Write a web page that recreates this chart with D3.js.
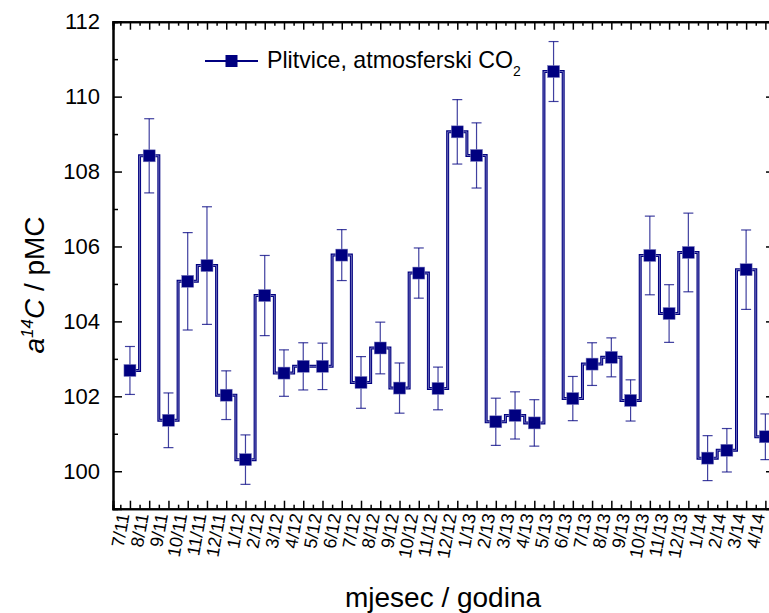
<!DOCTYPE html>
<html>
<head>
<meta charset="utf-8">
<script src="https://cdn.jsdelivr.net/npm/d3@7"></script>
<style>
    body { margin: 0; background: #fff; }
    svg { display: block; font-family: "Liberation Sans", Arial, sans-serif; }
</style>
</head>
<body>
<div id="chart"></div>
<script>
var labels = ["7/11", "8/11", "9/11", "10/11", "11/11", "12/11",
    "1/12", "2/12", "3/12", "4/12", "5/12", "6/12", "7/12", "8/12", "9/12", "10/12", "11/12", "12/12",
    "1/13", "2/13", "3/13", "4/13", "5/13", "6/13", "7/13", "8/13", "9/13", "10/13", "11/13", "12/13",
    "1/14", "2/14", "3/14", "4/14"];

var values = [102.69, 108.42, 101.36, 105.07, 105.49, 102.03,
    100.31, 104.69, 102.62, 102.80, 102.80, 105.77, 102.37, 103.29, 102.22, 105.29, 102.21, 109.06,
    108.43, 101.32, 101.49, 101.29, 110.67, 101.94, 102.86, 103.04, 101.89, 105.76, 104.21, 105.84,
    100.35, 100.56, 105.38, 100.92];

var errors = [0.64, 0.99, 0.73, 1.30, 1.57, 0.65,
    0.66, 1.07, 0.62, 0.63, 0.62, 0.68, 0.69, 0.69, 0.67, 0.67, 0.57, 0.86,
    0.87, 0.63, 0.63, 0.62, 0.80, 0.59, 0.57, 0.52, 0.55, 1.05, 0.77, 1.05,
    0.60, 0.58, 1.06, 0.61];

var yMajor = [100, 102, 104, 106, 108, 110, 112];
var yMinor = [101, 103, 105, 107, 109, 111];

var seriesName = "Plitvice, atmosferski CO";

var width = 769, height = 613;
var navy = "#000080";

var data = values.map(function(v, i) {
    return { i: i, label: labels[i], value: v, err: errors[i] };
});

var x = d3.scaleLinear().domain([-0.88, 33.5]).range([113, 775]);
var y = d3.scaleLinear().domain([99, 112]).range([508.7, 21.7]);

var svg = d3.select("#chart").append("svg")
    .attr("width", width)
    .attr("height", height);

svg.append("rect").attr("width", width).attr("height", height).attr("fill", "#fff");

var idx = d3.range(labels.length);
var halfIdx = d3.range(-0.5, labels.length, 1);

// axes, all ticks pointing inward
var bottom = svg.append("g")
    .attr("transform", "translate(0," + y.range()[0] + ")")
    .call(d3.axisBottom(x).tickValues(idx).tickSize(-8).tickPadding(0)
        .tickFormat(function(d) { return labels[d]; }));
svg.append("g")
    .attr("transform", "translate(0," + y.range()[0] + ")")
    .call(d3.axisBottom(x).tickValues(halfIdx).tickSize(-4).tickFormat(""));

svg.append("g")
    .attr("transform", "translate(0," + y.range()[1] + ")")
    .call(d3.axisTop(x).tickValues(idx).tickSize(-8).tickFormat(""));
svg.append("g")
    .attr("transform", "translate(0," + y.range()[1] + ")")
    .call(d3.axisTop(x).tickValues(halfIdx).tickSize(-4).tickFormat(""));

svg.append("g")
    .attr("transform", "translate(" + x.range()[0] + ",0)")
    .call(d3.axisLeft(y).tickValues(yMajor).tickSize(-9).tickPadding(13).tickFormat(d3.format("d")));
svg.append("g")
    .attr("transform", "translate(" + x.range()[0] + ",0)")
    .call(d3.axisLeft(y).tickValues(yMinor).tickSize(-5).tickFormat(""));

svg.append("g")
    .attr("transform", "translate(" + x.range()[1] + ",0)")
    .call(d3.axisRight(y).tickValues(yMajor).tickSize(-9).tickFormat(""));
svg.append("g")
    .attr("transform", "translate(" + x.range()[1] + ",0)")
    .call(d3.axisRight(y).tickValues(yMinor).tickSize(-5).tickFormat(""));

svg.selectAll(".domain").attr("stroke", "#000").attr("stroke-width", 2);
svg.selectAll(".tick line").attr("stroke", "#000").attr("stroke-width", 1.5);
svg.selectAll(".tick text")
    .attr("fill", "#000")
    .style("font-family", "'Liberation Sans', Arial, sans-serif")
    .style("font-size", "22px");

// rotated month labels
bottom.selectAll(".tick text")
    .style("font-size", "18px")
    .attr("text-anchor", "end")
    .attr("y", null)
    .attr("dy", null)
    .attr("transform", "translate(-1,6) rotate(-80)");

// step line
var line = d3.line()
    .x(function(d) { return x(d.i); })
    .y(function(d) { return y(d.value); })
    .curve(d3.curveStep);

svg.append("path")
    .datum(data)
    .attr("d", line)
    .attr("fill", "none")
    .attr("stroke", navy)
    .attr("stroke-width", 3);
svg.append("path")
    .datum(data)
    .attr("d", line)
    .attr("fill", "none")
    .attr("stroke", "#8686c6")
    .attr("stroke-width", 0.8);

// error bars
var eb = svg.append("g")
    .attr("stroke", navy)
    .attr("stroke-opacity", 0.75)
    .attr("stroke-width", 1.2);

eb.selectAll(".ev").data(data).enter().append("line")
    .attr("x1", function(d) { return x(d.i); })
    .attr("x2", function(d) { return x(d.i); })
    .attr("y1", function(d) { return y(d.value - d.err); })
    .attr("y2", function(d) { return y(d.value + d.err); });

eb.selectAll(".et").data(data).enter().append("line")
    .attr("x1", function(d) { return x(d.i) - 5; })
    .attr("x2", function(d) { return x(d.i) + 5; })
    .attr("y1", function(d) { return y(d.value + d.err); })
    .attr("y2", function(d) { return y(d.value + d.err); });

eb.selectAll(".eb").data(data).enter().append("line")
    .attr("x1", function(d) { return x(d.i) - 5; })
    .attr("x2", function(d) { return x(d.i) + 5; })
    .attr("y1", function(d) { return y(d.value - d.err); })
    .attr("y2", function(d) { return y(d.value - d.err); });

// markers
svg.selectAll(".marker").data(data).enter().append("rect")
    .attr("class", "marker")
    .attr("x", function(d) { return x(d.i) - 6; })
    .attr("y", function(d) { return y(d.value) - 6; })
    .attr("width", 12)
    .attr("height", 12)
    .attr("fill", navy)
    .attr("stroke", "#8080c0")
    .attr("stroke-width", 0.5);

// legend
var legend = svg.append("g").attr("transform", "translate(205,61)");
legend.append("line").attr("x1", 0).attr("x2", 53).attr("y1", 0).attr("y2", 0)
    .attr("stroke", navy).attr("stroke-width", 2.2);
legend.append("rect").attr("x", 20.5).attr("y", -6).attr("width", 12).attr("height", 12)
    .attr("fill", navy);
var lt = legend.append("text")
    .attr("x", 62)
    .attr("y", 6.5)
    .style("font-size", "23.2px")
    .attr("fill", "#000")
    .text(seriesName);
lt.append("tspan").attr("dy", 8).style("font-size", "14px").text("2");

// axis titles
svg.append("text")
    .attr("x", 443)
    .attr("y", 606.5)
    .attr("text-anchor", "middle")
    .style("font-size", "28px")
    .attr("fill", "#000")
    .text("mjesec / godina");

var yt = svg.append("text")
    .attr("transform", "translate(43.5,285) rotate(-90)")
    .attr("text-anchor", "middle")
    .style("font-size", "28px")
    .attr("fill", "#000");
yt.append("tspan").style("font-style", "italic").text("a");
yt.append("tspan").attr("dy", -11).style("font-size", "17px").style("font-style", "italic").text("14");
yt.append("tspan").attr("dy", 11).style("font-style", "italic").text("C");
yt.append("tspan").text(" / pMC");
</script>
</body>
</html>
